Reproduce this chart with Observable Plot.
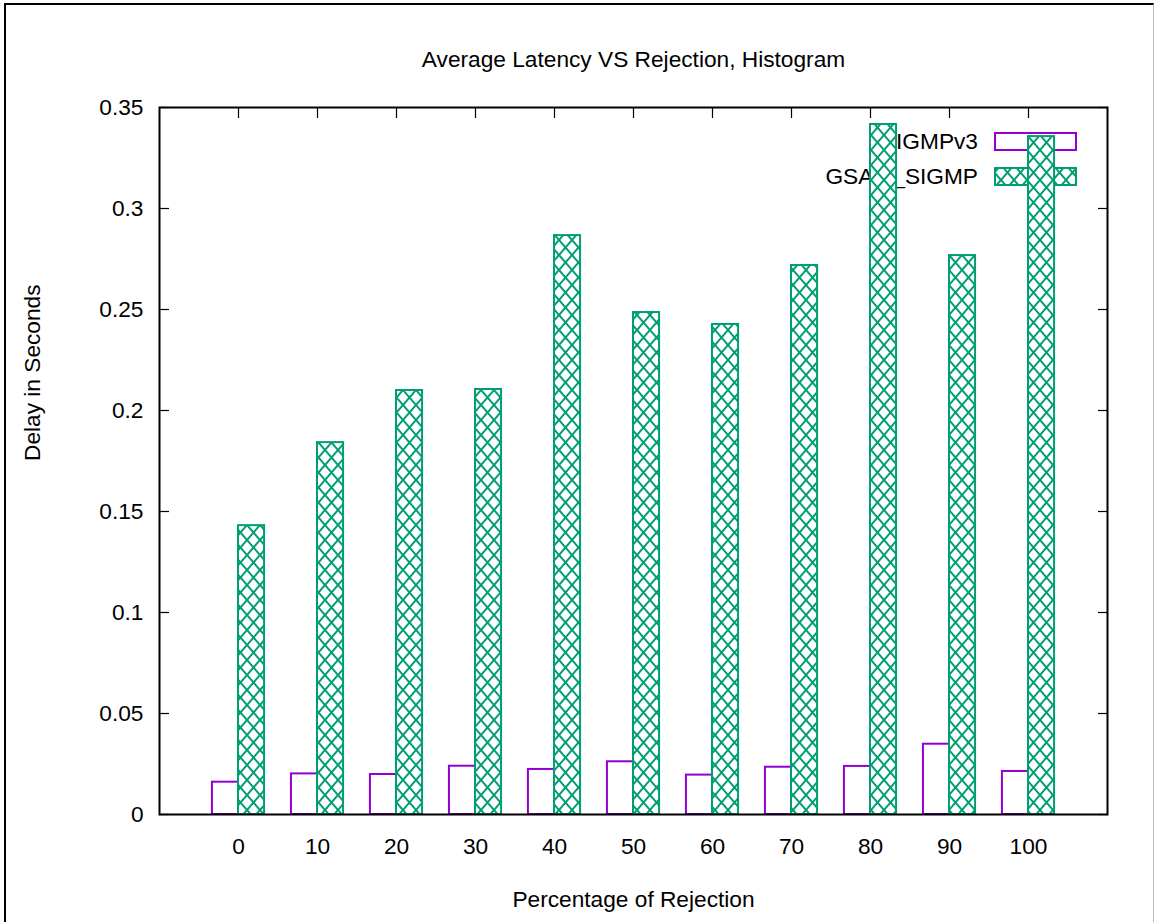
<!DOCTYPE html>
<html>
<head>
<meta charset="utf-8">
<script src="https://cdn.jsdelivr.net/npm/d3@7"></script>
<script src="https://cdn.jsdelivr.net/npm/@observablehq/plot@0.6"></script>
<style>
  html, body { margin: 0; padding: 0; background: #fff; }
  #frame { position: absolute; left: 4px; top: 3px; width: 1147px; height: 930px;
           border-left: 2px solid #000; border-top: 2px solid #000; border-right: 1px solid #bbb; }
  #chart { position: absolute; left: 0; top: 0; }
  svg { font-family: "Liberation Sans", Arial, sans-serif; }
</style>
</head>
<body>
<div id="frame"></div>
<div id="chart"></div>
<script>
const categories = ["0", "10", "20", "30", "40", "50", "60", "70", "80", "90", "100"];
const seriesNames = ["IGMPv3", "GSAM_SIGMP"];
const igmpv3 = [0.0160, 0.0201, 0.0198, 0.0239, 0.0223, 0.0261, 0.0195, 0.0234, 0.0238, 0.0348, 0.0213];
const gsamSigmp = [0.1430, 0.1841, 0.2099, 0.2104, 0.2866, 0.2485, 0.2426, 0.2718, 0.3416, 0.2767, 0.3356];
const yTicks = [0, 0.05, 0.1, 0.15, 0.2, 0.25, 0.3, 0.35];
const yTickLabels = ["0", "0.05", "0.1", "0.15", "0.2", "0.25", "0.3", "0.35"];

const purple = "#9400d3";
const green = "#009e73";
const barW = 0.33;
const FS = 22.7;

const rows = [];
categories.forEach((c, i) => {
  rows.push({i, cat: c, series: seriesNames[0], value: igmpv3[i]});
  rows.push({i, cat: c, series: seriesNames[1], value: gsamSigmp[i]});
});
const rowsA = rows.filter(d => d.series === seriesNames[0]);
const rowsB = rows.filter(d => d.series === seriesNames[1]);
const idx = categories.map((c, i) => i);

const W = 1155, H = 922;
const plot = Plot.plot({
  width: W, height: H,
  marginLeft: 159, marginRight: 48, marginTop: 107, marginBottom: 108,
  style: {fontFamily: '"Liberation Sans", Arial, sans-serif', fontSize: FS + "px", color: "#000", background: "transparent"},
  x: {type: "linear", domain: [-1, categories.length], axis: null},
  y: {domain: [0, 0.35], axis: null},
  marks: [
    Plot.axisY(yTicks, {anchor: "left", tickSize: -10, tickPadding: 26, tickFormat: (d, k) => yTickLabels[k], fontSize: FS, strokeWidth: 1.2, label: null}),
    Plot.axisY(yTicks, {anchor: "right", tickSize: -10, text: null, strokeWidth: 1.2, label: null}),
    Plot.axisX(idx, {anchor: "bottom", tickSize: -10, tickPadding: 33, tickFormat: i => categories[i], fontSize: FS, strokeWidth: 1.2, label: null}),
    Plot.axisX(idx, {anchor: "top", tickSize: -10, text: null, strokeWidth: 1.2, label: null}),
    Plot.rectY(rowsA, {x1: d => d.i - barW, x2: d => d.i, y1: 0, y2: "value", fill: "none", stroke: purple, strokeWidth: 2}),
    Plot.rectY(rowsB, {x1: d => d.i, x2: d => d.i + barW, y1: 0, y2: "value", fill: "url(#hatch)", stroke: green, strokeWidth: 2}),
    Plot.frame({stroke: "#000", strokeWidth: 2}),
    Plot.text(["Average Latency VS Rejection, Histogram"], {frameAnchor: "top", dy: -57, fontSize: FS}),
    Plot.text(["Percentage of Rejection"], {frameAnchor: "bottom", dy: 92, fontSize: FS}),
    Plot.text(["Delay in Seconds"], {frameAnchor: "left", dx: -127, rotate: -90, fontSize: FS})
  ]
});
document.getElementById("chart").append(plot);

const svg = d3.select(plot);
const defs = svg.insert("defs", ":first-child");
const pw = 13, ph = 15;
const pat = defs.append("pattern").attr("id", "hatch").attr("patternUnits", "userSpaceOnUse")
  .attr("width", pw).attr("height", ph);
pat.append("rect").attr("width", pw).attr("height", ph).attr("fill", "#fff");
pat.append("path")
  .attr("d", `M-1,${-ph/pw}L${pw+1},${ph+ph/pw}M${pw+1},${-ph/pw}L-1,${ph+ph/pw}`)
  .attr("stroke", green).attr("stroke-width", 2).attr("fill", "none");

// legend (drawn beneath the bars)
const lg = svg.insert("g", "g").attr("font-size", FS).attr("font-family", '"Liberation Sans", Arial, sans-serif');
const legendItems = [{name: seriesNames[0], fill: "none", stroke: purple, y: 141},
                     {name: seriesNames[1], fill: "url(#hatch)", stroke: green, y: 176}];
legendItems.forEach(it => {
  lg.append("text").attr("x", 978).attr("y", it.y).attr("dy", "0.35em").attr("text-anchor", "end").text(it.name);
  lg.append("rect").attr("x", 995).attr("y", it.y - 8).attr("width", 81).attr("height", 17)
    .attr("fill", it.fill).attr("stroke", it.stroke).attr("stroke-width", 2);
});
</script>
</body>
</html>
